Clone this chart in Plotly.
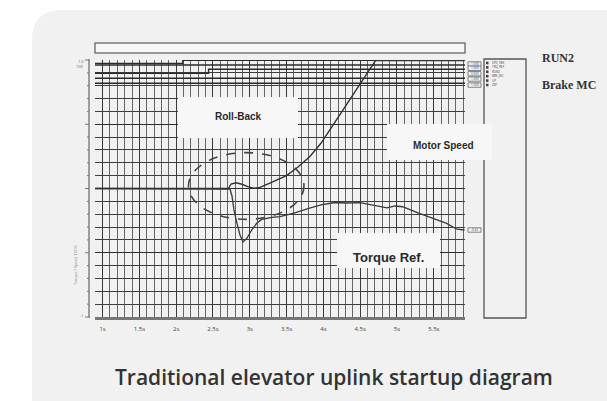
import plotly.graph_objects as go

# ---- data -------------------------------------------------------------
# Motor speed trace (time in s, value in grid divisions)
speed_t = [0.9, 2.71, 2.745, 2.813, 2.894, 2.973, 3.05, 3.139, 3.288, 3.499,
           3.655, 3.814, 3.967, 4.13, 4.288, 4.443, 4.579, 4.708, 5.924]
speed_v = [0.0, 0.0, 0.35, 0.45, 0.33, 0.14, 0.02, 0.09, 0.45, 1.01,
           1.67, 2.47, 3.52, 4.94, 6.37, 7.67, 8.83, 9.95, 9.95]

# Torque reference trace
torque_t = [0.9, 2.72, 2.731, 2.758, 2.785, 2.822, 2.867, 2.908, 2.958, 3.026,
            3.094, 3.162, 3.298, 3.41, 3.6, 3.814, 3.967, 4.157, 4.32, 4.497,
            4.673, 4.864, 4.973, 5.076, 5.285, 5.489, 5.675, 5.812, 5.918]
torque_v = [0.0, 0.0, -0.04, -0.58, -1.67, -2.61, -3.62, -4.16, -3.89, -3.23,
            -2.71, -2.41, -2.24, -2.19, -1.91, -1.53, -1.28, -1.09, -1.13, -1.10,
            -1.28, -1.50, -1.36, -1.42, -1.90, -2.31, -2.72, -3.17, -3.23]

# Digital channels: name, switching time, level before, level after
dig_names = ["RUN2", "Brake MC", "UP", "RUN", "ZSP"]
dig_switch = [2.09, 2.44, None, None, None]
dig_low = [9.74, 8.96, 9.61, 8.58, 8.19]
dig_high = [9.97, 9.28, 9.61, 8.58, 8.19]

# Value tags at the right end of the channels
tag_levels = [9.69, 9.36, 8.93, 8.52, 8.05]
tag_texts = ["1.000", "1.000", "0.000", "1.000", "1.000"]

legend_items = ["SPD_FBK", "TRQ_REF", "RUN2", "BRK_MC", "UP", "ZSP"]

x_ticks = [1, 1.5, 2, 2.5, 3, 3.5, 4, 4.5, 5, 5.5]
x_tick_text = ["1s", "1.5s", "2s", "2.5s", "3s", "3.5s", "4s", "4.5s", "5s", "5.5s"]

T_MIN, T_MAX = 0.897, 5.924
Y_MIN, Y_MAX = -10, 10

# ---- layout helpers ---------------------------------------------------
W, H = 607, 401
L, R, T, B = 95, 142, 60, 84
PW, PH = W - L - R, H - T - B


def px(x):
    return (x - L) / PW


def py(y):
    return (H - B - y) / PH


fig = go.Figure()

# digital channel traces
for name, ts, lo, hi in zip(dig_names, dig_switch, dig_low, dig_high):
    if ts is None:
        xs, ys = [T_MIN, T_MAX], [lo, hi]
    else:
        xs, ys = [T_MIN, ts, ts, T_MAX], [lo, lo, hi, hi]
    fig.add_trace(go.Scatter(x=xs, y=ys, mode="lines", name=name,
                             line=dict(color="#2a2a2a", width=1.4),
                             showlegend=False, hoverinfo="skip"))

fig.add_trace(go.Scatter(x=torque_t, y=torque_v, mode="lines", name="Torque Ref.",
                         line=dict(color="#3a3a3a", width=1.3), showlegend=False))
fig.add_trace(go.Scatter(x=speed_t, y=speed_v, mode="lines", name="Motor Speed",
                         line=dict(color="#333333", width=1.4), showlegend=False))

shapes = []

# rounded card behind the figure
cx0, cy0, cx1, cy1, rr = 32, 10, 640, 440, 30
card_path = (
    f"M {px(cx0)},{py(cy0 + rr)} "
    f"Q {px(cx0)},{py(cy0)} {px(cx0 + rr)},{py(cy0)} "
    f"L {px(cx1)},{py(cy0)} L {px(cx1)},{py(cy1)} "
    f"L {px(cx0 + rr)},{py(cy1)} "
    f"Q {px(cx0)},{py(cy1)} {px(cx0)},{py(cy1 - rr)} Z"
)
shapes.append(dict(type="path", xref="paper", yref="paper", path=card_path,
                   fillcolor="#f1f1f1", line=dict(width=0), layer="below"))

# header strip above the grid
shapes.append(dict(type="rect", xref="paper", yref="paper",
                   x0=px(95), x1=px(465), y0=py(53), y1=py(43),
                   fillcolor="#f7f7f7", line=dict(color="#7a7a7a", width=1.5)))

# right-hand channel panel
shapes.append(dict(type="rect", xref="paper", yref="paper",
                   x0=px(484), x1=px(526), y0=py(318), y1=py(59),
                   fillcolor="rgba(0,0,0,0)", line=dict(color="#555555", width=1.3)))

# left scale line with ticks
shapes.append(dict(type="line", xref="paper", yref="paper",
                   x0=px(89), x1=px(89), y0=py(318), y1=py(59),
                   line=dict(color="#666666", width=1.2)))
for k in range(Y_MIN, Y_MAX + 1):
    yy = 188.5 - k * 12.85
    ln = 4 if k % 5 == 0 else 2
    shapes.append(dict(type="line", xref="paper", yref="paper",
                       x0=px(89 - ln), x1=px(89), y0=py(yy), y1=py(yy),
                       line=dict(color="#777777", width=1)))

# roll-back region
shapes.append(dict(type="circle", xref="x", yref="y",
                   x0=2.167, x1=3.736, y0=-2.40, y1=2.79,
                   line=dict(color="#444444", width=1.6, dash="dash")))

# blank label boxes over the grid
for (bx0, by0, bx1, by1) in [(178, 97, 298, 138), (387, 124, 492, 160), (337, 233, 440, 268)]:
    shapes.append(dict(type="rect", xref="paper", yref="paper",
                       x0=px(bx0), x1=px(bx1), y0=py(by1), y1=py(by0),
                       fillcolor="#f7f7f7", line=dict(width=0), layer="above"))

annotations = []

# value tags at the channel ends
for lvl, txt in zip(tag_levels, tag_texts):
    yy = 188.5 - lvl * 12.85
    shapes.append(dict(type="rect", xref="paper", yref="paper",
                       x0=px(468), x1=px(481), y0=py(yy + 2.2), y1=py(yy - 2.2),
                       fillcolor="#f4f4f4", line=dict(color="#666666", width=0.8)))
    annotations.append(dict(x=px(474.5), y=py(yy), text=txt,
                            font=dict(size=3, color="#444444")))
# tag at the torque trace end
ty = 188.5 - torque_v[-1] * 12.85
shapes.append(dict(type="rect", xref="paper", yref="paper",
                   x0=px(468), x1=px(481), y0=py(ty + 2.2), y1=py(ty - 2.2),
                   fillcolor="#f4f4f4", line=dict(color="#666666", width=0.8)))
annotations.append(dict(x=px(474.5), y=py(ty), text="-0.32",
                        font=dict(size=3, color="#444444")))

# legend entries in the panel
for i, name in enumerate(legend_items):
    yy = 63 + i * 4.4
    shapes.append(dict(type="rect", xref="paper", yref="paper",
                       x0=px(486), x1=px(488.5), y0=py(yy + 1.3), y1=py(yy - 1.3),
                       fillcolor="#444444", line=dict(width=0)))
    annotations.append(dict(x=px(490), y=py(yy), xanchor="left", text=name,
                            font=dict(size=3, color="#444444")))

# labels inside the chart
annotations += [
    dict(x=px(238), y=py(116), text="<b>Roll-Back</b>",
         font=dict(family="Liberation Sans", size=10, color="#2a2a2a")),
    dict(x=px(443), y=py(145), text="<b>Motor Speed</b>",
         font=dict(family="Liberation Sans", size=10, color="#2a2a2a")),
    dict(x=px(388), y=py(257), text="<b>Torque Ref.</b>",
         font=dict(family="Liberation Sans", size=13, color="#2a2a2a")),
    dict(x=px(540), y=py(58), xanchor="left", text="<b>RUN2</b>",
         font=dict(family="Liberation Serif", size=12, color="#333333")),
    dict(x=px(540), y=py(85), xanchor="left", text="<b>Brake MC</b>",
         font=dict(family="Liberation Serif", size=12, color="#333333")),
    dict(x=px(86), y=py(61), xanchor="right", text="1.0",
         font=dict(size=4, color="#666666")),
    dict(x=px(86), y=py(66), xanchor="right", text="100",
         font=dict(size=4, color="#666666")),
    dict(x=px(86), y=py(315), xanchor="right", text="-1",
         font=dict(size=4, color="#666666")),
    dict(x=px(75), y=py(265), text="Torque / Speed 100%", textangle=-90,
         font=dict(size=4, color="#888888")),
    dict(x=px(334), y=py(377), text="Traditional elevator uplink startup diagram",
         font=dict(family="Open Sans", size=21, color="#333333", weight=600)),
]
for a in annotations:
    a.setdefault("xref", "paper")
    a.setdefault("yref", "paper")
    a.setdefault("xanchor", "center")
    a.setdefault("yanchor", "middle")
    a.setdefault("showarrow", False)

fig.update_layout(
    width=W, height=H,
    margin=dict(l=L, r=R, t=T, b=B, pad=0),
    paper_bgcolor="#ffffff",
    plot_bgcolor="#f6f6f6",
    shapes=shapes,
    annotations=annotations,
    showlegend=False,
    xaxis=dict(
        range=[T_MIN, T_MAX], tickmode="array", tickvals=x_ticks, ticktext=x_tick_text,
        tickfont=dict(size=6, color="#444444"), ticks="", ticklabelstandoff=4,
        showgrid=True, gridcolor="#3a3a3a", gridwidth=1.3,
        minor=dict(dtick=0.1, tick0=1, showgrid=True, gridcolor="#666666", gridwidth=1),
        showline=True, linecolor="#777777", linewidth=3, zeroline=False,
    ),
    yaxis=dict(
        range=[Y_MIN, Y_MAX], tickmode="linear", dtick=5, tick0=0,
        showticklabels=False, ticks="",
        showgrid=True, gridcolor="#2e2e2e", gridwidth=1.4,
        minor=dict(dtick=1, tick0=0, showgrid=True, gridcolor="#3e3e3e", gridwidth=1.2),
        showline=False, zeroline=False,
    ),
)

fig.write_html("out.html")
